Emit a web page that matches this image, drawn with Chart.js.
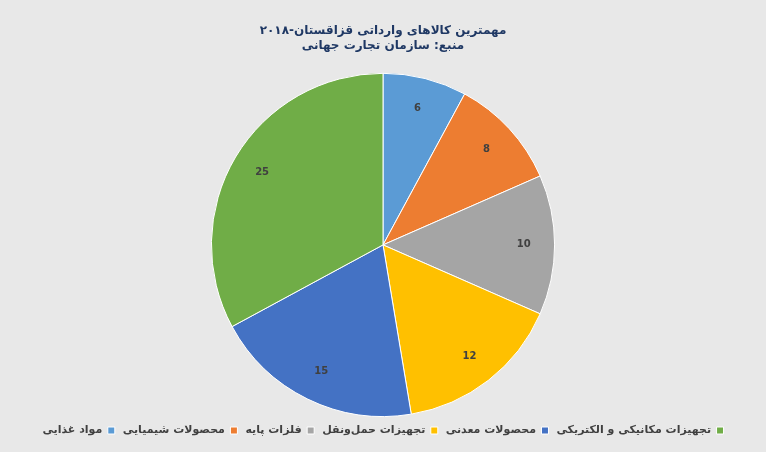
<!DOCTYPE html>
<html><head><meta charset="utf-8">
<script src="https://cdn.jsdelivr.net/npm/chart.js@4"></script>
<style>html,body{margin:0;padding:0;background:#e8e8e8;}#w{width:766px;height:452px;}</style>
</head><body><div id="w"><canvas id="c" width="766" height="452"></canvas></div>
<script>
const categories=['مواد غذایی','محصولات شیمیایی','فلزات پایه','تجهیزات حمل‌ونقل','محصولات معدنی','تجهیزات مکانیکی و الکتریکی'];
const values=[6,8,10,12,15,25];
const colors=['#5b9bd5','#ed7d31','#a5a5a5','#ffc000','#4472c4','#70ad47'];
const labelPlugin={id:'lbl',afterDatasetsDraw(chart){const ctx=chart.ctx;const meta=chart.getDatasetMeta(0);ctx.save();ctx.font='bold 10px "DejaVu Sans"';ctx.fillStyle='#404040';ctx.textAlign='center';ctx.textBaseline='middle';meta.data.forEach((a,i)=>{const r=a.outerRadius*0.82;const ang=(a.startAngle+a.endAngle)/2;ctx.fillText(values[i],a.x+Math.cos(ang)*r,a.y+Math.sin(ang)*r);});ctx.restore();}};
new Chart(document.getElementById('c'),{type:'pie',data:{labels:categories,datasets:[{data:values,backgroundColor:colors,borderColor:'#ffffff',borderWidth:1}]},
options:{responsive:false,animation:false,layout:{padding:{top:0,bottom:6}},
plugins:{tooltip:{enabled:false},
title:{display:true,text:['مهمترین کالاهای وارداتی قزاقستان-۲۰۱۸','منبع: سازمان تجارت جهانی'],color:'#1f3864',font:{family:'DejaVu Sans',size:12,weight:'bold'},padding:{top:24,bottom:20},lineHeight:1.8},
legend:{position:'bottom',rtl:true,reverse:true,labels:{boxWidth:7,boxHeight:7,color:'#404040',font:{family:'DejaVu Sans',size:11,weight:'bold'},padding:8}}}},
plugins:[labelPlugin,{id:'pad',beforeInit(c){const f=c.legend&&c.legend.fit;}}]});
</script></body></html>
